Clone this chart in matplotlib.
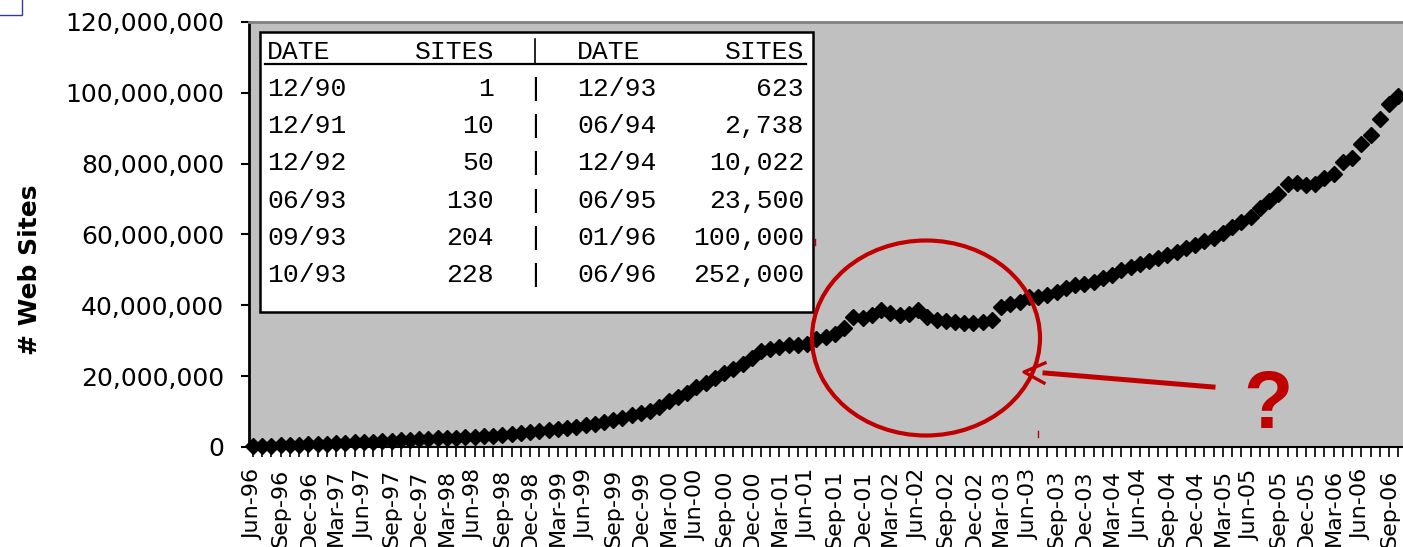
import numpy as np
import pandas as pd
import matplotlib
matplotlib.use("Agg")
import matplotlib.pyplot as plt
from matplotlib.patches import Rectangle, Ellipse
from matplotlib.lines import Line2D
from matplotlib.ticker import FuncFormatter

W, H = 1403, 547

# monthly count of web sites, millions, Jun-96 .. Oct-06
sites_m = [
    0.25, 0.32, 0.38, 0.45, 0.55, 0.65, 0.75, 0.85, 0.95, 1.05, 1.20, 1.35,
    1.45, 1.55, 1.65, 1.75, 1.90, 2.05, 2.20, 2.30, 2.45, 2.55, 2.65, 2.75,
    2.85, 3.00, 3.15, 3.35, 3.60, 3.85, 4.10, 4.40, 4.70, 5.00, 5.30, 5.70,
    6.20, 6.60, 7.10, 7.50, 8.10, 8.90, 9.60, 10.2, 11.3, 13.0, 14.0, 15.2,
    17.0, 18.2, 19.5, 20.8, 22.0, 23.4, 25.2, 27.2, 27.8, 28.3, 28.7, 28.8,
    29.2, 30.5, 31.0, 32.0, 33.5, 36.6, 36.5, 37.2, 38.7, 37.9, 37.4, 37.6,
    38.8, 36.8, 36.0, 35.5, 35.2, 34.9, 35.0, 35.3, 35.8, 39.6, 40.4, 40.9,
    42.3, 42.4, 43.0, 43.7, 44.9, 45.7, 46.1, 46.7, 47.7, 48.7, 50.0, 50.9,
    51.6, 52.4, 53.4, 54.3, 55.0, 56.2, 57.0, 58.2, 59.0, 60.5, 62.0, 63.5,
    64.8, 67.5, 69.5, 71.5, 74.4, 74.6, 74.0, 74.4, 76.0, 77.0, 80.5, 81.5,
    85.5, 88.2, 92.6, 96.9, 99.0,
]
months = pd.date_range("1996-06-01", periods=len(sites_m), freq="MS").strftime("%b-%y")
month_labels = [m if i % 3 == 0 else "" for i, m in enumerate(months)]
y_ticks = [0, 20e6, 40e6, 60e6, 80e6, 100e6, 120e6]

# early history table
tbl_dates_a = ["12/90", "12/91", "12/92", "06/93", "09/93", "10/93"]
tbl_sites_a = [1, 10, 50, 130, 204, 228]
tbl_dates_b = ["12/93", "06/94", "12/94", "06/95", "01/96", "06/96"]
tbl_sites_b = [623, 2738, 10022, 23500, 100000, 252000]

red = "#c00000"


def fx(px):
    return px / W


def fy(py):
    return 1 - py / H


fig = plt.figure(figsize=(W / 100, H / 100), dpi=100)
ax = fig.add_axes([fx(249), fy(447), (W - 249) / W, 425 / H])
ax.set_facecolor("#c0c0c0")

x = np.arange(len(sites_m))
ax.plot(x, np.array(sites_m) * 1e6, ls="none", marker="D", ms=7.8,
        color="black", clip_on=False, zorder=3)

ax.set_xlim(-0.43, 124.5)
ax.set_ylim(0, 120e6)
ax.set_xticks(x)
ax.set_xticklabels(month_labels, rotation=90, fontsize=16)
ax.set_yticks(y_ticks)
ax.yaxis.set_major_formatter(FuncFormatter(lambda v, p: f"{v:,.0f}"))
ax.tick_params(axis="x", length=7, width=1.2, pad=9)
ax.tick_params(axis="y", length=6, width=1.5, pad=12, labelsize=18)
ax.spines["left"].set_linewidth(2)
ax.spines["bottom"].set_linewidth(1.5)
ax.spines["top"].set_color("#808080")
ax.spines["top"].set_linewidth(2)
ax.spines["right"].set_visible(False)

fig.text(fx(30), fy(270), "# Web Sites", rotation=90, fontsize=18,
         fontweight="bold", ha="center", va="center")

# table box
fig.add_artist(Rectangle((fx(260), fy(312)), (813 - 260) / W, (312 - 32) / H,
                         transform=fig.transFigure, facecolor="white",
                         edgecolor="black", lw=1.8, zorder=4))
mono = dict(family="Liberation Mono", fontsize=19, va="center", zorder=5)
fig.text(fx(267), fy(52), "DATE", ha="left", **mono)
fig.text(fx(494), fy(52), "SITES", ha="right", **mono)
fig.text(fx(577), fy(52), "DATE", ha="left", **mono)
fig.text(fx(804), fy(52), "SITES", ha="right", **mono)
fig.add_artist(Line2D([fx(265), fx(806)], [fy(64), fy(64)], color="black",
                      lw=1.6, transform=fig.transFigure, zorder=5))
fig.add_artist(Line2D([fx(535), fx(535)], [fy(39), fy(64)], color="black",
                      lw=1.2, transform=fig.transFigure, zorder=5))
for i in range(len(tbl_dates_a)):
    ry = 89 + 37.2 * i
    fig.text(fx(267), fy(ry), tbl_dates_a[i], ha="left", **mono)
    fig.text(fx(494), fy(ry), f"{tbl_sites_a[i]:,}", ha="right", **mono)
    fig.text(fx(535), fy(ry), "|", ha="center", **mono)
    fig.text(fx(577), fy(ry), tbl_dates_b[i], ha="left", **mono)
    fig.text(fx(804), fy(ry), f"{tbl_sites_b[i]:,}", ha="right", **mono)

# red annotation
fig.add_artist(Ellipse((fx(926), fy(338)), 228 / W, 195 / H,
                       transform=fig.transFigure, fill=False,
                       edgecolor=red, lw=3, zorder=6))
fig.add_artist(Line2D([fx(1213), fx(1045)], [fy(387), fy(373)], color=red,
                      lw=3.6, transform=fig.transFigure, zorder=6))
fig.add_artist(Line2D([fx(1045), fx(1024), fx(1044)], [fy(363), fy(372), fy(383)],
                      color=red, lw=2.4, transform=fig.transFigure, zorder=6))
fig.add_artist(Line2D([fx(815), fx(815)], [fy(239), fy(245)], color=red,
                      lw=1, transform=fig.transFigure, zorder=6))
fig.add_artist(Line2D([fx(1038), fx(1038)], [fy(431), fy(437)], color=red,
                      lw=1, transform=fig.transFigure, zorder=6))
fig.text(fx(1268), fy(407), "?", fontsize=58, fontweight="bold", color=red,
         family="Liberation Sans", ha="center", va="center", zorder=6)

# small frame in the upper left corner
fig.add_artist(Rectangle((fx(-3), fy(15)), 24.5 / W, 18 / H,
                         transform=fig.transFigure, fill=False,
                         edgecolor="#2e3f8f", lw=1))

fig.savefig("out.png", dpi=100)
